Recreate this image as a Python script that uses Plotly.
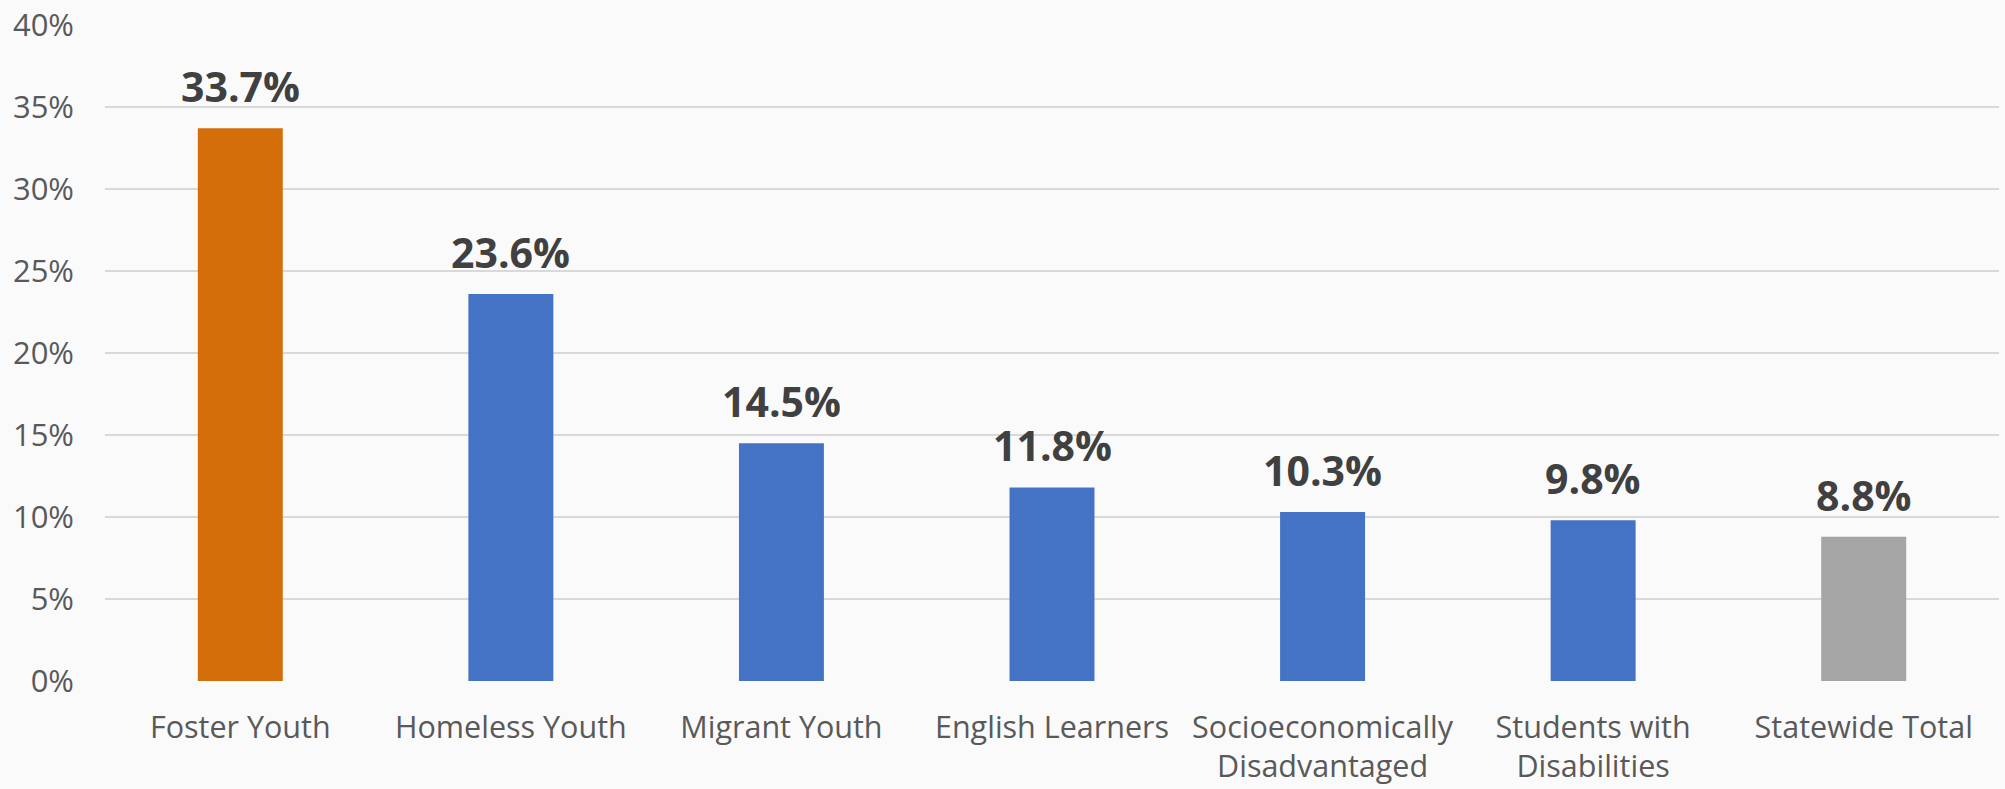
import plotly.graph_objects as go

categories = ["Foster Youth", "Homeless Youth", "Migrant Youth", "English Learners",
              "Socioeconomically<br>Disadvantaged", "Students with<br>Disabilities", "Statewide Total"]
values = [33.7, 23.6, 14.5, 11.8, 10.3, 9.8, 8.8]
bar_colors = ["#D46E0A", "#4472C4", "#4472C4", "#4472C4", "#4472C4", "#4472C4", "#A5A5A5"]
y_ticks = [0, 5, 10, 15, 20, 25, 30, 35, 40]
y_tick_labels = [f"{t}%" for t in y_ticks]
value_labels = [f"{v:.1f}%" for v in values]

fig = go.Figure()
fig.add_trace(go.Bar(
    x=categories, y=values, marker=dict(color=bar_colors, line=dict(width=0)),
    hoverinfo="skip", showlegend=False,
))

for c, v, t in zip(categories, values, value_labels):
    fig.add_annotation(x=c, y=v, text=f"<b>{t}</b>", showarrow=False,
                       yanchor="bottom", yshift=12,
                       font=dict(family="Open Sans", size=41, color="#404040"))

fig.update_layout(
    width=2005, height=789,
    margin=dict(l=105, r=6, t=25, b=108),
    paper_bgcolor="#FAFAFA", plot_bgcolor="#FAFAFA",
    bargap=0.686,
    font=dict(family="Open Sans", size=30, color="#595959"),
)
fig.update_xaxes(showgrid=False, showline=False, ticks="", automargin=False,
                 tickfont=dict(size=30.5, color="#595959"), ticklabelstandoff=25)
fig.update_yaxes(range=[0, 40], tickvals=y_ticks, ticktext=y_tick_labels,
                 showgrid=True, gridcolor="#D9D9D9", gridwidth=2, automargin=False,
                 zeroline=False, showline=False, ticks="",
                 tickfont=dict(size=31, color="#595959"), ticklabelstandoff=30)

fig.write_html("out.html",
               config={"displayModeBar": False},
               post_script="document.body.style.margin='0';"
                           "document.body.style.background='#FAFAFA';"
                           "document.body.style.overflow='hidden';")
